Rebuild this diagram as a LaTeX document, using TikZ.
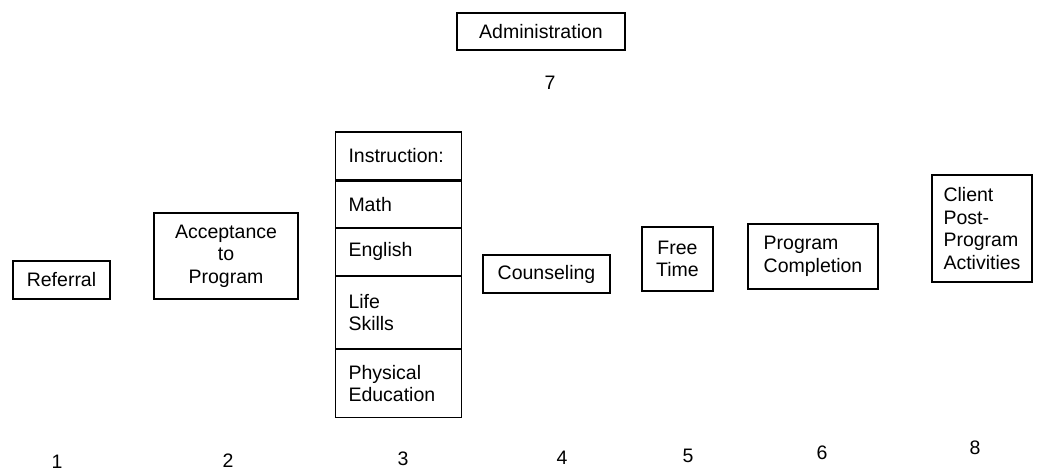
\documentclass[tikz,border=0pt]{standalone}
\usepackage{fontspec}
\setmainfont{Liberation Sans}
\usetikzlibrary{positioning}

\tikzset{
  box/.style={draw, line width=1.1pt, inner sep=0pt, align=center,
              font=\fontsize{19.5}{22.5}\selectfont},
  cell/.style={box, align=left, text width=100pt, inner xsep=13pt,
               minimum width=126pt},
  num/.style={inner sep=0pt, font=\fontsize{19.5}{22.5}\selectfont}
}

\begin{document}
\begin{tikzpicture}[x=1pt,y=-1pt]
\useasboundingbox (0,0) rectangle (1040,471);

\node[box,minimum width=168pt,minimum height=37pt] (admin) at (541,31.5) {Administration};
\node[num] (n7) at (550,83) {7};

\node[box,minimum width=97pt,minimum height=38pt] (referral) at (61.5,280) {Referral};
\node[box,minimum width=144pt,minimum height=86pt] (accept) at (226,256) {Acceptance\\to\\Program};

% instruction column
\node[cell,minimum height=48pt] (instr) at (398.5,156) {Instruction:};
\node[cell,minimum height=46pt,below=0pt of instr] (math) {Math};
\node[cell,minimum height=47pt,below=0pt of math] (english) {English};
\node[cell,minimum height=72pt,below=0pt of english] (life) {Life\\Skills};
\node[cell,minimum height=68pt,below=0pt of life] (phys) {Physical\\Education};

\node[box,minimum width=127pt,minimum height=38pt] (counsel) at (546.5,274) {Counseling};
\node[box,minimum width=71pt,minimum height=64pt] (free) at (677.5,259) {Free\\Time};
\node[box,align=left,minimum width=130pt,minimum height=65pt] (compl) at (813,256.5) {Program\\Completion};
\node[box,align=left,minimum width=100pt,minimum height=107pt] (client) at (982,228.5) {Client\\Post-\\Program\\Activities};

\node[num] (n1) at (57,462) {1};
\node[num] (n2) at (228,461) {2};
\node[num] (n3) at (403,459) {3};
\node[num] (n4) at (562,458) {4};
\node[num] (n5) at (688,456) {5};
\node[num] (n6) at (822,453) {6};
\node[num] (n8) at (975,448) {8};
\end{tikzpicture}
\end{document}
